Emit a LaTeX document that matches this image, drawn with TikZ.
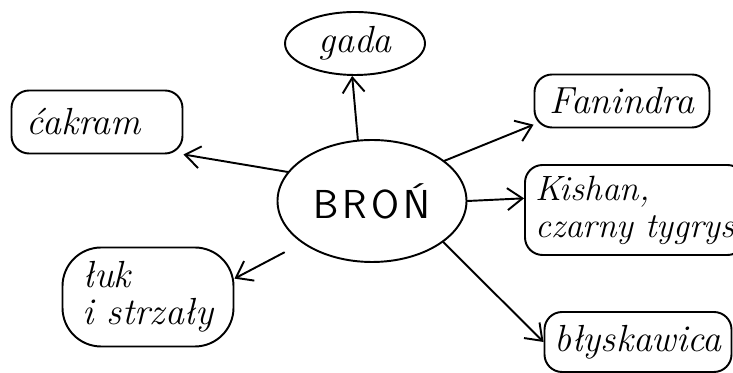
\documentclass[tikz,border=0pt]{standalone}
\usepackage{tikz}
\usetikzlibrary{arrows.meta,shapes.geometric}
\tikzset{
  branch/.style={-{Straight Barb[length=3mm,width=4.4mm]}, line width=1.1pt,
    line cap=round, line join=round},
  leaflabel/.style={font=\fontsize{21.5}{21}\selectfont\itshape, align=left}
}
\begin{document}
\begin{tikzpicture}[
  blob/.style={draw, line width=1.1pt, ellipse, inner sep=0pt},
  tag/.style={draw, line width=1.1pt, rounded corners=10pt, inner sep=0pt}
]
\useasboundingbox (0,0) rectangle (14.66,-7.46);
\node[blob, minimum width=3.78cm, minimum height=2.44cm,
  font=\fontsize{23}{26}\selectfont\sffamily] at (7.44,-4.02) (bron) {B\hspace{0.1em}R\hspace{0.1em}O\hspace{0.1em}Ń};
\node[blob, leaflabel, minimum width=2.8cm, minimum height=1.26cm] at (7.1,-0.87) (gada) {gada};
\node[tag, leaflabel, minimum width=3.42cm, minimum height=1.26cm, text width=2.8cm] at (1.94,-2.44) (cakram) {ćakram};
\node[tag, leaflabel, minimum width=3.5cm, minimum height=1.06cm] at (12.44,-2.02) (fanindra) {Fanindra};
\node[tag, leaflabel, font=\fontsize{20}{21}\selectfont\itshape, minimum width=4.4cm, minimum height=1.8cm] at (12.7,-4.2) (kishan) {Kishan,\\czarny tygrys};
\node[tag, leaflabel, rounded corners=22pt, minimum width=3.42cm, minimum height=1.98cm] at (2.96,-5.94) (luk) {łuk\\i strzały};
\node[tag, leaflabel, minimum width=3.74cm, minimum height=1.2cm] at (12.76,-6.84) (blysk) {błyskawica};

% Centre word with six weapons around it
\draw[branch] (bron.103) -- (gada.265);
\draw[branch] (bron.161) -- (cakram.south east);
\draw[branch] (bron.29) -- (fanindra.195);
\draw[branch] (bron.east) -- (kishan.174);
\draw[branch, shorten <=0.4cm] (bron.211) -- (luk.12);
\draw[branch] (bron.-30) -- (blysk.west);
\end{tikzpicture}
\end{document}
